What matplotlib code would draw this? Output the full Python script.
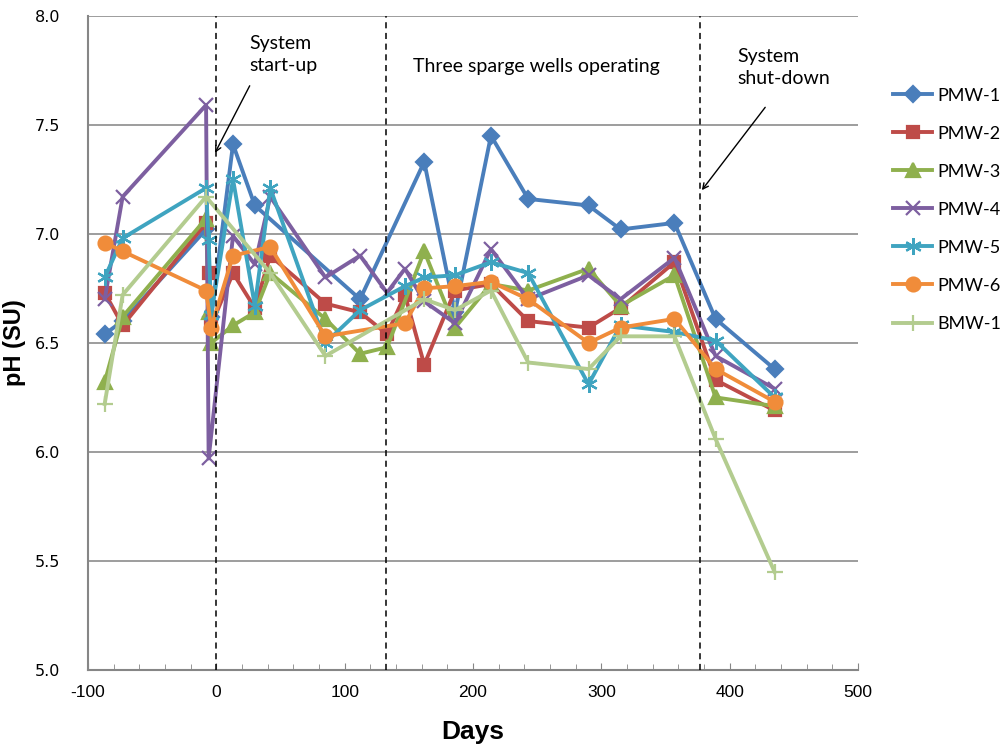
import matplotlib
matplotlib.use("Agg")
import matplotlib.pyplot as plt
from matplotlib.ticker import MultipleLocator

plt.rcParams["axes.unicode_minus"] = False

# sampling days and pH readings per well
pmw1_days = [-87, -73, -8, -4, 13, 30, 112, 162, 186, 214, 243, 290, 315, 357, 389, 435]
pmw1_ph = [6.54, 6.60, 7.02, 6.62, 7.41, 7.13, 6.70, 7.33, 6.64, 7.45, 7.16, 7.13, 7.02, 7.05, 6.61, 6.38]

pmw2_days = [-87, -73, -8, -6, -4, 13, 30, 42, 85, 112, 133, 147, 162, 186, 214, 243, 290, 315, 357, 389, 435]
pmw2_ph = [6.73, 6.58, 7.05, 6.82, 6.58, 6.82, 6.66, 6.90, 6.68, 6.64, 6.54, 6.72, 6.40, 6.74, 6.77, 6.60, 6.57, 6.66, 6.87, 6.33, 6.19]

pmw3_days = [-87, -73, -8, -6, -4, 13, 30, 42, 85, 112, 133, 162, 186, 214, 243, 290, 315, 357, 389, 435]
pmw3_ph = [6.32, 6.62, 7.07, 6.64, 6.50, 6.58, 6.64, 6.82, 6.61, 6.45, 6.48, 6.92, 6.57, 6.77, 6.74, 6.84, 6.67, 6.81, 6.25, 6.21]

pmw4_days = [-87, -73, -8, -6, 13, 30, 42, 85, 112, 133, 147, 162, 186, 214, 243, 290, 315, 357, 389, 435]
pmw4_ph = [6.70, 7.17, 7.59, 5.97, 6.99, 6.86, 7.17, 6.80, 6.90, 6.73, 6.84, 6.69, 6.59, 6.93, 6.70, 6.81, 6.70, 6.89, 6.44, 6.29]

pmw5_days = [-87, -73, -8, -6, -4, 13, 30, 42, 85, 112, 147, 162, 186, 214, 243, 290, 315, 357, 389, 435]
pmw5_ph = [6.80, 6.98, 7.21, 6.97, 6.63, 7.25, 6.67, 7.21, 6.50, 6.65, 6.76, 6.80, 6.81, 6.87, 6.82, 6.31, 6.58, 6.55, 6.51, 6.25]

pmw6_days = [-87, -73, -8, -4, 13, 42, 85, 147, 162, 186, 214, 243, 290, 315, 357, 389, 435]
pmw6_ph = [6.96, 6.92, 6.74, 6.57, 6.90, 6.94, 6.53, 6.59, 6.75, 6.76, 6.78, 6.70, 6.50, 6.57, 6.61, 6.38, 6.23]

bmw1_days = [-87, -73, -8, 42, 85, 162, 186, 214, 243, 290, 315, 357, 389, 435]
bmw1_ph = [6.22, 6.72, 7.17, 6.82, 6.44, 6.70, 6.65, 6.74, 6.41, 6.38, 6.53, 6.53, 6.06, 5.45]

event_days = [0, 132, 377]

series = [
    ("PMW-1", pmw1_days, pmw1_ph, "#4A7EBB", "D", 8),
    ("PMW-2", pmw2_days, pmw2_ph, "#BE4B48", "s", 9),
    ("PMW-3", pmw3_days, pmw3_ph, "#8FB04E", "^", 10),
    ("PMW-4", pmw4_days, pmw4_ph, "#7D5FA0", "x", 10),
    ("PMW-5", pmw5_days, pmw5_ph, "#3FA4C0", (6, 2, 0), 12),
    ("PMW-6", pmw6_days, pmw6_ph, "#F08C3A", "o", 10),
    ("BMW-1", bmw1_days, bmw1_ph, "#B3CC8F", "+", 11),
]

fig = plt.figure(figsize=(10, 7.47), dpi=100)
ax = fig.add_axes([0.088, 0.103, 0.770, 0.876])

for name, d, v, c, m, ms in series:
    ax.plot(d, v, color=c, lw=2.8, marker=m, ms=ms, mew=1.6,
            mec=c, mfc=c, label=name, zorder=3)

for d in event_days:
    ax.axvline(d, color="black", lw=1.1, ls=(0, (4, 3)), zorder=4)

ax.set_xlim(-100, 500)
ax.set_ylim(5.0, 8.0)
ax.xaxis.set_major_locator(MultipleLocator(100))
ax.xaxis.set_minor_locator(MultipleLocator(20))
ax.yaxis.set_major_locator(MultipleLocator(0.5))
ax.grid(axis="y", color="#8c8c8c", lw=1.2, zorder=0)
ax.set_axisbelow(True)

for s in ["top", "right"]:
    ax.spines[s].set_visible(False)
for s in ["left", "bottom"]:
    ax.spines[s].set_color("#868686")
    ax.spines[s].set_linewidth(1.5)

ax.tick_params(axis="x", which="both", direction="in", color="#868686")
ax.tick_params(axis="x", which="major", length=5, pad=11)
ax.tick_params(axis="x", which="minor", length=4)
ax.tick_params(axis="y", length=0, pad=20)
ax.set_yticklabels([f"{t:.1f}" for t in ax.get_yticks()], fontsize=11.5,
                   family="DejaVu Sans")
for lab in ax.get_xticklabels():
    lab.set_fontfamily(["Liberation Sans Narrow", "Liberation Sans", "DejaVu Sans"])
    lab.set_fontsize(12.5)

ax.set_xlabel("Days", fontsize=19, fontweight="bold",
              family=["Liberation Sans Narrow", "Liberation Sans"], labelpad=14)
ax.set_ylabel("pH (SU)", fontsize=17, fontweight="bold",
              family="Liberation Sans", labelpad=6)

ann_font = dict(fontsize=14, family="Lato")
ax.text(26, 7.91, "System\nstart-up", ha="left", va="top", linespacing=1.3, **ann_font)
ax.text(249, 7.765, "Three sparge wells operating", ha="center", va="center", **ann_font)
ax.text(406, 7.85, "System\nshut-down", ha="left", va="top", linespacing=1.3, **ann_font)
ax.annotate("", xy=(-2, 7.36), xytext=(27, 7.69),
            arrowprops=dict(arrowstyle="->", color="black", lw=1.0))
ax.annotate("", xy=(377, 7.19), xytext=(429, 7.59),
            arrowprops=dict(arrowstyle="->", color="black", lw=1.0))

leg = ax.legend(loc="upper left", bbox_to_anchor=(1.045, 0.89), frameon=False,
                prop={"family": "Lato", "size": 13}, handlelength=2.2,
                labelspacing=1.22, handletextpad=0.25, borderpad=0,
                borderaxespad=0)

fig.savefig("out.png", dpi=100)
